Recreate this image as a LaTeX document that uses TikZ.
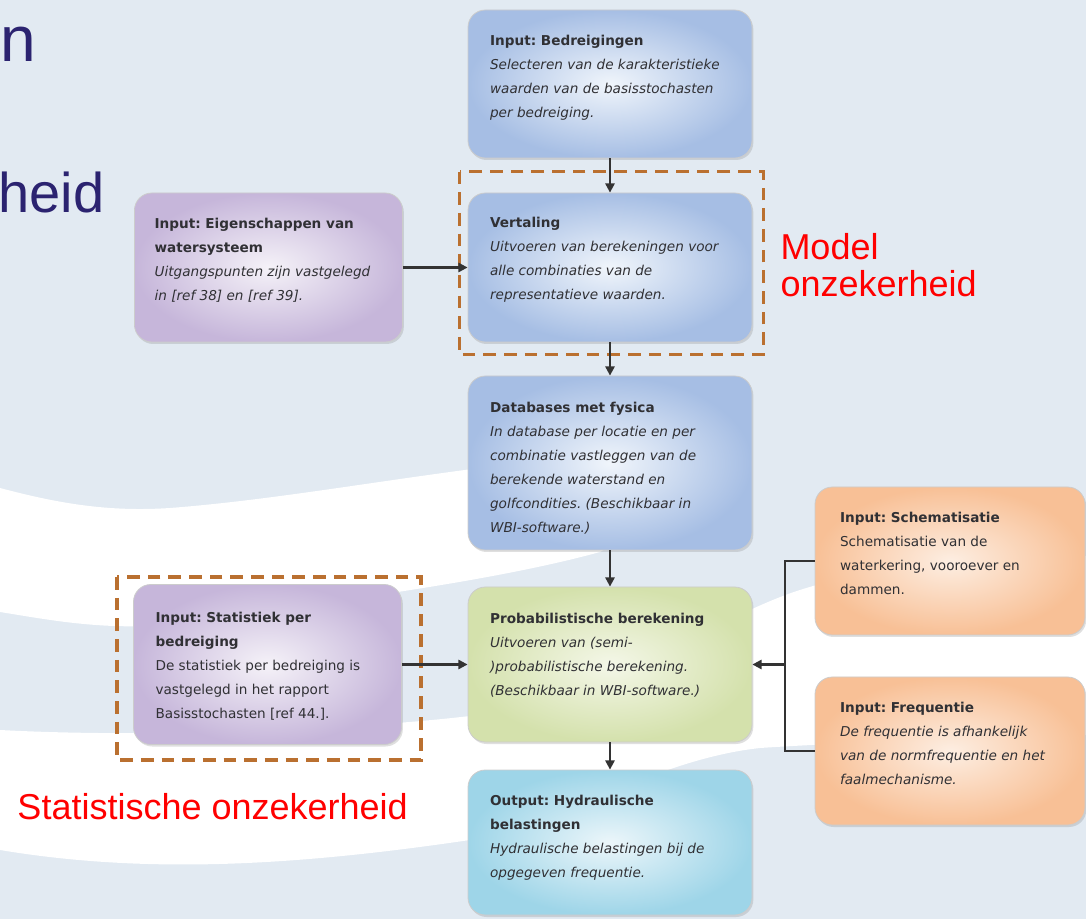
\documentclass[tikz,border=0pt]{standalone}
\usepackage{fontspec}
\setmainfont{Liberation Sans}
\newfontfamily\vakfont{DejaVu Sans}
\usetikzlibrary{arrows.meta,shadows,positioning,calc}
\tikzset{every picture/.style={line width=0.75pt}}

\definecolor{achtergrond}{RGB}{226,234,242}
\definecolor{titelblauw}{RGB}{43,35,112}
\definecolor{stippelbruin}{RGB}{186,112,48}
\definecolor{tekstgrijs}{RGB}{48,48,52}
\definecolor{blauwrand}{RGB}{166,190,228}
\definecolor{blauwkern}{RGB}{240,245,251}
\definecolor{paarsrand}{RGB}{198,182,218}
\definecolor{paarskern}{RGB}{245,242,248}
\definecolor{groenrand}{RGB}{212,225,172}
\definecolor{groenkern}{RGB}{244,247,232}
\definecolor{cyaanrand}{RGB}{158,213,232}
\definecolor{cyaankern}{RGB}{236,246,250}
\definecolor{oranjerand}{RGB}{248,192,150}
\definecolor{oranjekern}{RGB}{253,238,226}

\tikzset{
  vak/.style={rounded corners=13pt, draw=black!20, line width=0.6pt,
    drop shadow={shadow xshift=1pt, shadow yshift=-1.5pt, opacity=0.25}},
  middenvak/.style={vak, minimum width=213pt},
  zijvak/.style={vak, minimum width=201pt},
  blauwvak/.style={middenvak, inner color=blauwkern, outer color=blauwrand},
  groenvak/.style={middenvak, inner color=groenkern, outer color=groenrand},
  cyaanvak/.style={middenvak, inner color=cyaankern, outer color=cyaanrand},
  paarsvak/.style={zijvak, inner color=paarskern, outer color=paarsrand},
  oranjevak/.style={zijvak, minimum width=202.5pt, inner color=oranjekern, outer color=oranjerand},
  vaktekst/.style={anchor=north west, align=left, inner sep=0pt, text=tekstgrijs,
    font=\vakfont\fontsize{10.2}{18}\selectfont},
  schuin/.style={vaktekst, font=\vakfont\fontsize{10.2}{18}\selectfont\itshape},
  pijl/.style={draw=black!80, line width=1.6pt, -{Triangle[length=7pt,width=7pt]}},
  lijn/.style={draw=black!80, line width=1.6pt},
  stippel/.style={draw=stippelbruin, line width=2.6pt, dash pattern=on 9.5pt off 6pt},
  rood/.style={anchor=north west, align=left, inner sep=0pt, text=red,
    font=\fontsize{27}{28}\selectfont},
}
\newcommand{\kop}[1]{\textbf{\upshape #1}}

\begin{document}
\frenchspacing
\begin{tikzpicture}[x=0.75pt, y=-0.75pt]
    % 背景
    \useasboundingbox (0,0) rectangle (1086,919);
    \clip (0,0) rectangle (1086,919);
    \fill[achtergrond] (0,0) rectangle (1086,919);
    \fill[white] (0,488) .. controls (60,504) and (110,512) .. (170,508) .. controls (300,498) and (430,470) .. (620,452) .. controls (680,448) and (720,446) .. (740,445) .. controls (700,480) and (640,530) .. (600,552) .. controls (480,585) and (300,605) .. (170,625) .. controls (100,630) and (50,620) .. (0,612) -- cycle;
    \fill[white] (0,730) .. controls (150,738) and (350,730) .. (470,716) .. controls (600,700) and (720,615) .. (800,590) .. controls (880,564) and (1000,556) .. (1086,556) -- (1086,735) .. controls (950,740) and (850,742) .. (760,748) .. controls (650,760) and (550,830) .. (470,840) .. controls (300,865) and (150,875) .. (0,850) -- cycle;

    % 标题残字
    \node[anchor=base west, inner sep=0pt, text=titelblauw, font=\fontsize{48}{48}\selectfont] (titeln) at (0,62) {n};
    \node[anchor=base west, inner sep=0pt, text=titelblauw, font=\fontsize{42}{42}\selectfont] (titelheid) at (-2,213) {heid};

    % 中间一列
    \node[blauwvak, minimum height=111pt] (bedr) at (610,84) {};
    \node[schuin] (bedrtekst) at ([shift={(22,25)}]bedr.north west) {\kop{Input: Bedreigingen}\\Selecteren van de karakteristieke\\waarden van de basisstochasten\\per bedreiging.};

    \node[blauwvak, minimum height=111.75pt] (vert) at (610,267.5) {};
    \node[schuin] (verttekst) at ([shift={(22,24)}]vert.north west) {\kop{Vertaling}\\Uitvoeren van berekeningen voor\\alle combinaties van de\\representatieve waarden.};

    \node[blauwvak, minimum height=130.5pt] (data) at (610,463) {};
    \node[schuin] (datatekst) at ([shift={(22,26)}]data.north west) {\kop{Databases met fysica}\\In database per locatie en per\\combinatie vastleggen van de\\berekende waterstand en\\golfcondities. (Beschikbaar in\\WBI-software.)};

    \node[groenvak, minimum height=116.25pt] (prob) at (610,664.5) {};
    \node[schuin] (probtekst) at ([shift={(22,26)}]prob.north west) {\kop{Probabilistische berekening}\\Uitvoeren van (semi-\\)probabilistische berekening.\\(Beschikbaar in WBI-software.)};

    \node[cyaanvak, minimum height=108.75pt] (outp) at (610,842.5) {};
    \node[schuin] (outptekst) at ([shift={(22,25)}]outp.north west) {\kop{Output: Hydraulische}\\\kop{belastingen}\\Hydraulische belastingen bij de\\opgegeven frequentie.};

    % 左侧输入
    \node[paarsvak, minimum height=111.75pt] (eig) at (268.5,267.5) {};
    \node[schuin] (eigtekst) at ([shift={(20,25)}]eig.north west) {\kop{Input: Eigenschappen van}\\\kop{watersysteem}\\Uitgangspunten zijn vastgelegd\\in [ref 38] en [ref 39].};

    \node[paarsvak, minimum height=120pt] (stat) at (267.5,664.5) {};
    \node[vaktekst] (stattekst) at ([shift={(22,28)}]stat.north west) {\kop{Input: Statistiek per}\\\kop{bedreiging}\\De statistiek per bedreiging is\\vastgelegd in het rapport\\Basisstochasten [ref 44.].};

    % 右侧输入
    \node[oranjevak, minimum height=111pt] (schem) at (950,561) {};
    \node[vaktekst] (schemtekst) at ([shift={(25,25)}]schem.north west) {\kop{Input: Schematisatie}\\Schematisatie van de\\waterkering, vooroever en\\dammen.};

    \node[oranjevak, minimum height=111pt] (freq) at (950,751) {};
    \node[schuin] (freqtekst) at ([shift={(25,25)}]freq.north west) {\kop{Input: Frequentie}\\De frequentie is afhankelijk\\van de normfrequentie en het\\faalmechanisme.};

    % 不确定性虚线框
    \draw[stippel] ([shift={(-8,-21)}]vert.north west) rectangle ([shift={(11,12)}]vert.south east);
    \draw[stippel] ([shift={(-16,-7)}]stat.north west) rectangle ([shift={(19,15)}]stat.south east);
    \node[rood] (modellabel) at (780,233) {Model\\onzekerheid};
    \node[rood] (statlabel) at (17,793) {Statistische onzekerheid};

    % 箭头
    \draw[pijl] (bedr) -- (vert);
    \draw[pijl] (vert) -- (data);
    \draw[pijl] (data) -- (prob);
    \draw[pijl] (prob) -- (outp);
    \draw[pijl] (eig) -- (vert);
    \draw[pijl] (stat) -- (prob);
    \coordinate (splits) at ([shift={(33,0)}]prob.east);
    \draw[lijn] (schem.west) -| (splits) |- (freq.west);
    \draw[pijl] (splits) -- (prob.east);
\end{tikzpicture}
\end{document}
